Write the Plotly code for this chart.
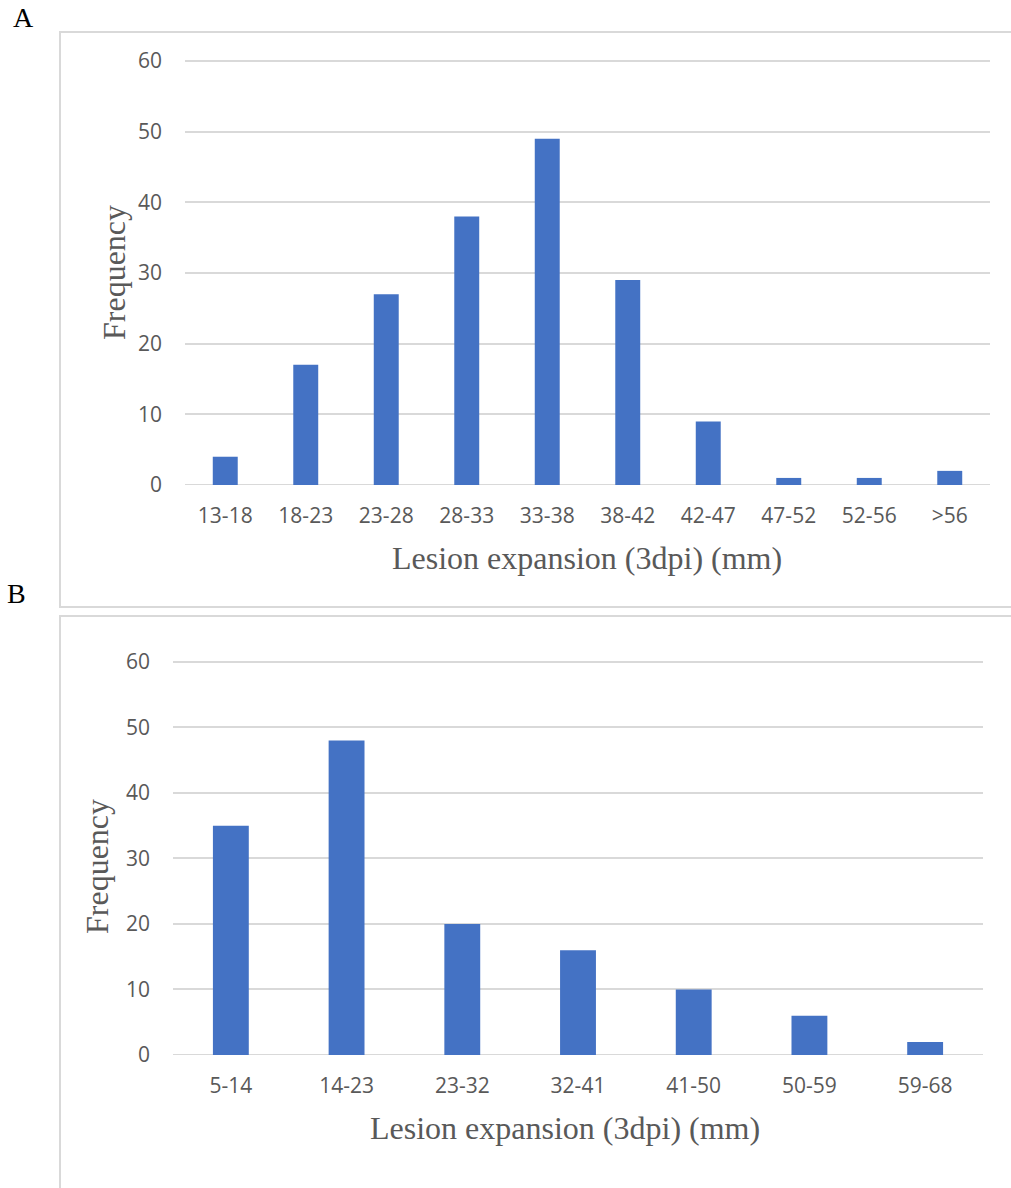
import plotly.graph_objects as go

# Panel A: lesion expansion classes and counts
cats_a = ["13-18", "18-23", "23-28", "28-33", "33-38", "38-42", "42-47", "47-52", "52-56", ">56"]
freq_a = [4, 17, 27, 38, 49, 29, 9, 1, 1, 2]

# Panel B: lesion expansion classes and counts
cats_b = ["5-14", "14-23", "23-32", "32-41", "41-50", "50-59", "59-68"]
freq_b = [35, 48, 20, 16, 10, 6, 2]

y_ticks = [0, 10, 20, 30, 40, 50, 60]

W, H = 1011, 1188
BAR = "#4472c4"
GRID = "#d9d9d9"
TXT = "#595959"
TICKFONT = dict(family="Open Sans, Liberation Sans, sans-serif", size=21, color=TXT)
Y_TOP = 60.3  # a little headroom so the 60 gridline is drawn


def px(x):
    return x / W


def py(y):
    return 1 - y / H


def domain(y_zero, y_sixty):
    # pixel rows of the 0 and 60 gridlines -> paper domain including headroom
    per_unit = (y_zero - y_sixty) / 60.0
    top = y_zero - Y_TOP * per_unit
    return [py(y_zero), py(top)]


fig = go.Figure()
fig.add_trace(go.Bar(x=cats_a, y=freq_a, marker=dict(color=BAR, line=dict(width=0)),
                     xaxis="x", yaxis="y", showlegend=False))
fig.add_trace(go.Bar(x=cats_b, y=freq_b, marker=dict(color=BAR, line=dict(width=0)),
                     xaxis="x2", yaxis="y2", showlegend=False))

common_x = dict(showgrid=False, showline=False, zeroline=False, ticks="",
                tickfont=TICKFONT, ticklabelstandoff=16, fixedrange=True)
common_y = dict(range=[0, Y_TOP], tickvals=y_ticks, showgrid=True, gridcolor=GRID,
                gridwidth=1.5, zeroline=False, showline=False, ticks="",
                tickfont=TICKFONT, ticklabelstandoff=22, fixedrange=True)

fig.update_layout(
    width=W, height=H,
    margin=dict(l=0, r=0, t=0, b=0, autoexpand=False),
    paper_bgcolor="white", plot_bgcolor="white",
    bargap=0.69,
    xaxis=dict(domain=[px(185), px(990)], anchor="y", **common_x),
    yaxis=dict(domain=domain(485, 61), anchor="x", **common_y),
    xaxis2=dict(domain=[px(173), px(983)], anchor="y2", **common_x),
    yaxis2=dict(domain=domain(1055, 662), anchor="x2", **common_y),
)

# Baseline lines at zero
for xa, ya in (("x", "y"), ("x2", "y2")):
    fig.add_shape(type="line", xref=f"{xa} domain", yref=ya, x0=0, x1=1, y0=0, y1=0,
                  line=dict(color=GRID, width=2), layer="below")

# Panel frames
fig.add_shape(type="rect", xref="paper", yref="paper", x0=px(60), x1=px(1020),
              y0=py(607), y1=py(32), line=dict(color=GRID, width=2))
fig.add_shape(type="rect", xref="paper", yref="paper", x0=px(60), x1=px(1020),
              y0=py(1200), y1=py(616), line=dict(color=GRID, width=2))

SERIF = "Liberation Serif, Times New Roman, serif"
ann = [
    dict(text="A", x=px(23), y=py(18), font=dict(family=SERIF, size=28, color="black")),
    dict(text="B", x=px(16), y=py(593), font=dict(family=SERIF, size=28, color="black")),
    dict(text="Lesion expansion (3dpi) (mm)", x=px(587), y=py(558),
         font=dict(family=SERIF, size=32, color=TXT)),
    dict(text="Frequency", x=px(114), y=py(273), textangle=-90,
         font=dict(family=SERIF, size=32, color=TXT)),
    dict(text="Lesion expansion (3dpi) (mm)", x=px(565), y=py(1128),
         font=dict(family=SERIF, size=32, color=TXT)),
    dict(text="Frequency", x=px(97), y=py(867), textangle=-90,
         font=dict(family=SERIF, size=32, color=TXT)),
]
for a in ann:
    fig.add_annotation(xref="paper", yref="paper", showarrow=False,
                       xanchor="center", yanchor="middle", **a)

fig.write_html("out.html")
